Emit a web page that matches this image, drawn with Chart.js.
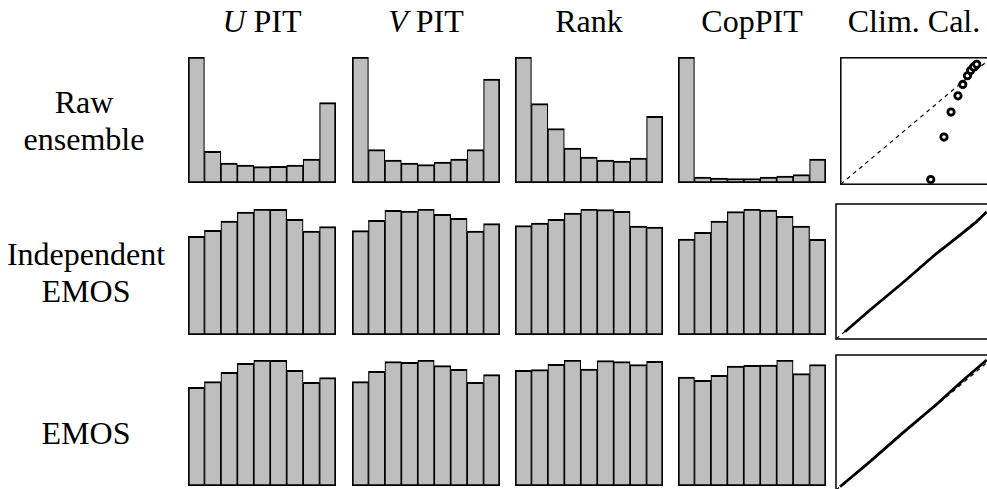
<!DOCTYPE html>
<html>
<head>
<meta charset="utf-8">
<script src="https://cdn.jsdelivr.net/npm/chart.js@4.4.1/dist/chart.umd.min.js"></script>
<style>
    html, body { margin: 0; padding: 0; background: #fff; overflow: hidden; }
    #wrap { position: relative; width: 987px; height: 489px; overflow: hidden; background: #fff; }
    #wrap canvas { position: absolute; }
    .lbl {
        position: absolute;
        font-family: "Liberation Serif", "DejaVu Serif", "Noto Serif", "Times New Roman", Times, FreeSerif, Tinos, serif;
        font-size: 32px;
        line-height: 37px;
        color: #000;
        text-align: center;
        white-space: nowrap;
    }
    .lbl i { font-style: italic; }
</style>
</head>
<body>
<div id="wrap"></div>
<script>
// --- DATA (bar heights, 9 bins per histogram) ---
const bins = ['1', '2', '3', '4', '5', '6', '7', '8', '9'];
const colTitles = ['<i>U</i> PIT', '<i>V</i> PIT', 'Rank', 'CopPIT', 'Clim. Cal.'];
const rowTitles = ['Raw<br>ensemble', 'Independent<br>EMOS', 'EMOS'];

const rawU    = [378, 95, 60, 54, 49, 50, 54, 72, 241];
const rawV    = [378, 100, 69, 60, 55, 63, 72, 100, 312];
const rawRank = [378, 238, 163, 105, 78, 69, 66, 75, 200];
const rawCop  = [378, 18, 15, 13, 13, 18, 21, 25, 72];

const indU    = [296, 314, 342, 369, 378, 377, 347, 312, 325];
const indV    = [313, 344, 374, 372, 378, 362, 350, 312, 334];
const indRank = [328, 336, 347, 366, 378, 376, 371, 327, 324];
const indCop  = [288, 308, 342, 370, 378, 375, 356, 327, 287];

const emosU    = [296, 313, 341, 368, 378, 377, 347, 311, 325];
const emosV    = [313, 344, 373, 371, 378, 361, 350, 311, 334];
const emosRank = [347, 349, 365, 378, 351, 376, 373, 364, 374];
const emosCop  = [327, 317, 332, 360, 362, 363, 378, 337, 364];

// climatological calibration (x: nominal, y: observed)
const diagX = [0, 1];
const diagY = [0, 1];
const rawClimX  = [0.598, 0.686, 0.733, 0.779, 0.811, 0.842, 0.863, 0.883, 0.904];
const rawClimY  = [0.037, 0.373, 0.571, 0.699, 0.789, 0.858, 0.899, 0.928, 0.949];
const indClimX  = [0.056, 0.2125, 0.421, 0.629, 0.775, 0.879, 0.942];
const indClimY  = [0.054, 0.215, 0.420, 0.635, 0.770, 0.869, 0.943];
const emosClimX = [0.025, 0.2125, 0.421, 0.629, 0.796, 0.942];
const emosClimY = [0.024, 0.210, 0.427, 0.635, 0.815, 0.963];

// --- LAYOUT ---
const wrap = document.getElementById('wrap');
const colLeft = [188, 352, 515, 678];
const histW = 148, histH = 126;
const rowTop = [57, 209, 360];
const climLeft = 836, climW = 160;
const climTop = [53, 204, 355];
const climH = [136, 135, 135];

const histRows = [
    [rawU, rawV, rawRank, rawCop],
    [indU, indV, indRank, indCop],
    [emosU, emosV, emosRank, emosCop]
];

function zip(xs, ys) {
    return xs.map((x, i) => ({ x: x, y: ys[i] }));
}

function addCanvas(left, top, w, h) {
    const c = document.createElement('canvas');
    c.width = w;
    c.height = h;
    c.style.left = left + 'px';
    c.style.top = top + 'px';
    c.style.width = w + 'px';
    c.style.height = h + 'px';
    wrap.appendChild(c);
    return c;
}

function addLabel(html, cx, baseline, width) {
    const d = document.createElement('div');
    d.className = 'lbl';
    d.innerHTML = html;
    d.style.width = width + 'px';
    d.style.left = (cx - width / 2) + 'px';
    d.style.top = (baseline - 29.3) + 'px';
    wrap.appendChild(d);
}

// --- HISTOGRAMS ---
function drawHist(canvas, values) {
    new Chart(canvas, {
        type: 'bar',
        data: {
            labels: bins,
            datasets: [{
                data: values,
                backgroundColor: '#bebebe',
                borderColor: '#000',
                borderSkipped: false,
                borderWidth: ctx => ({
                    top: 2,
                    bottom: 2,
                    left: ctx.dataIndex === 0 ? 2 : 1.2,
                    right: ctx.dataIndex === bins.length - 1 ? 2 : 1.2
                }),
                categoryPercentage: 1,
                barPercentage: 1
            }]
        },
        options: {
            responsive: false,
            animation: false,
            layout: { padding: 0 },
            plugins: { legend: { display: false }, tooltip: { enabled: false } },
            scales: {
                x: { display: false },
                y: { display: false, min: 0, max: Math.max(...values) }
            }
        }
    });
}

histRows.forEach((row, r) => {
    row.forEach((vals, c) => {
        drawHist(addCanvas(colLeft[c], rowTop[r], histW, histH), vals);
    });
});

// --- CLIMATOLOGICAL CALIBRATION ---
const framePlugin = {
    id: 'frame',
    afterDraw(chart) {
        const a = chart.chartArea;
        const g = chart.ctx;
        g.save();
        g.strokeStyle = '#000';
        g.lineWidth = 1.5;
        g.strokeRect(a.left, a.top, a.right - a.left, a.bottom - a.top);
        g.restore();
    }
};

function drawClim(canvas, seriesX, seriesY, asPoints) {
    const diag = {
        data: zip(diagX, diagY),
        showLine: true,
        borderColor: '#000',
        borderWidth: 1.2,
        borderDash: [4, 4],
        pointRadius: 0
    };
    const series = asPoints ? {
        data: zip(seriesX, seriesY),
        showLine: false,
        pointRadius: 3.2,
        pointBorderWidth: 2.8,
        pointBorderColor: '#000',
        pointBackgroundColor: '#fff'
    } : {
        data: zip(seriesX, seriesY),
        showLine: true,
        borderColor: '#000',
        borderWidth: 2.8,
        pointRadius: 0,
        tension: 0
    };
    new Chart(canvas, {
        type: 'scatter',
        data: { datasets: [diag, series] },
        options: {
            responsive: false,
            animation: false,
            layout: { padding: 2 },
            plugins: { legend: { display: false }, tooltip: { enabled: false } },
            scales: {
                x: { display: false, min: 0, max: 1 },
                y: { display: false, min: 0, max: 1 }
            }
        },
        plugins: [framePlugin]
    });
}

drawClim(addCanvas(climLeft - 2, climTop[0] - 2, climW + 4, climH[0] + 4), rawClimX, rawClimY, true);
drawClim(addCanvas(climLeft - 2, climTop[1] - 2, climW + 4, climH[1] + 4), indClimX, indClimY, false);
drawClim(addCanvas(climLeft - 2, climTop[2] - 2, climW + 4, climH[2] + 4), emosClimX, emosClimY, false);

// --- TEXT ---
const colCenters = [262, 426, 589, 752, 914];
colTitles.forEach((t, i) => addLabel(t, colCenters[i], 32, 170));
addLabel(rowTitles[0], 84, 113, 180);
addLabel(rowTitles[1], 86, 265, 180);
addLabel(rowTitles[2], 86, 444, 180);
</script>
</body>
</html>
